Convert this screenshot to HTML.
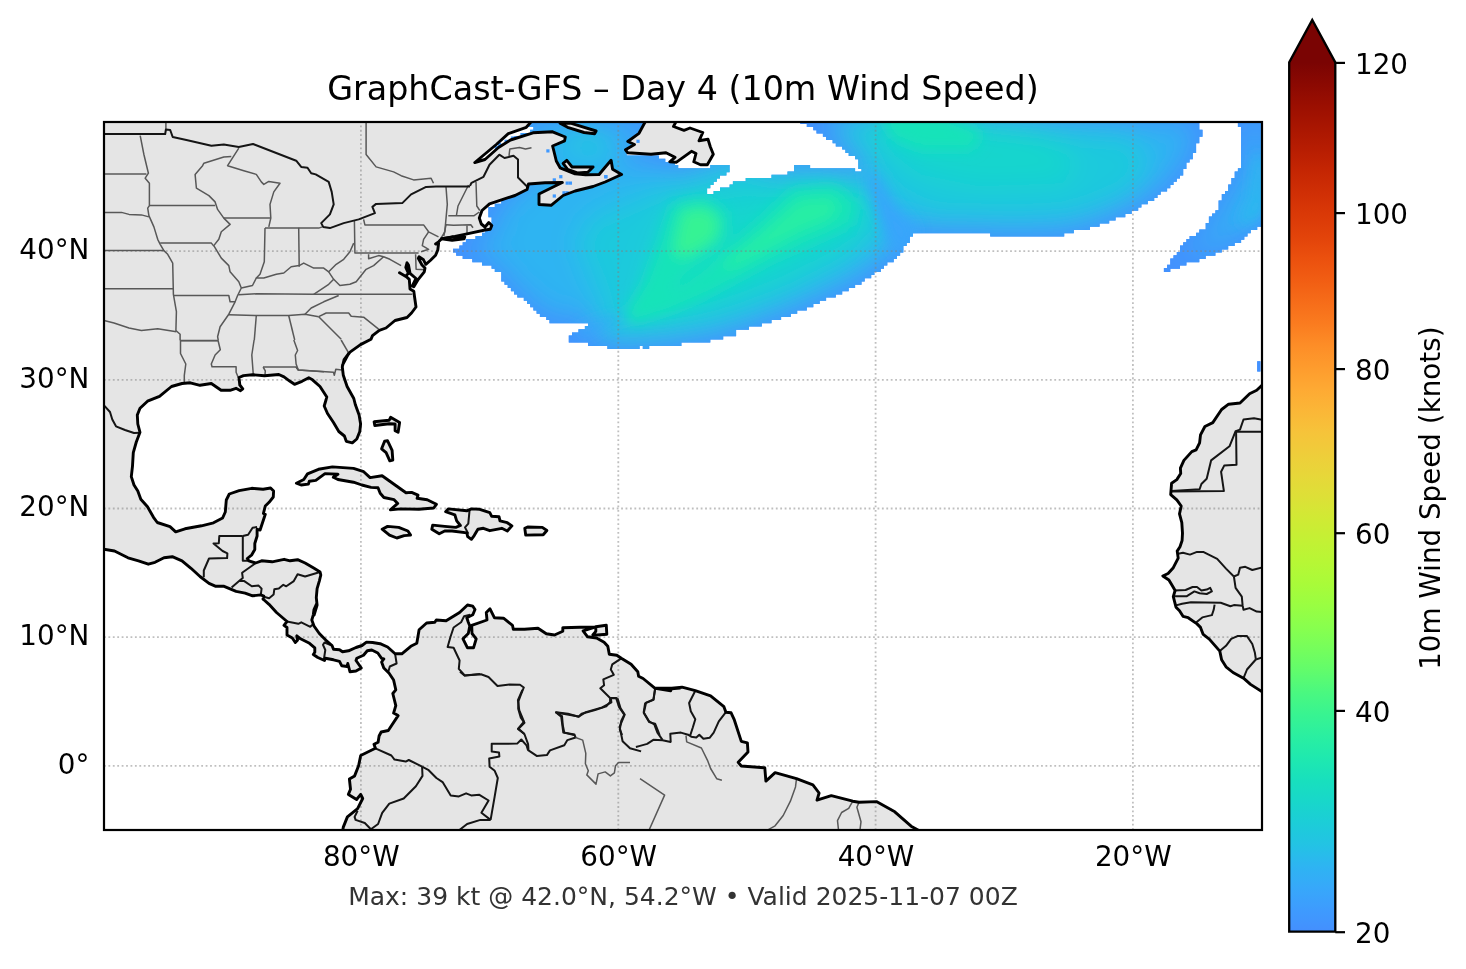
<!DOCTYPE html><html><head><meta charset="utf-8"><title>GraphCast-GFS Day 4</title>
<style>html,body{margin:0;padding:0;background:#fff}svg{display:block}text{font-family:"DejaVu Sans","Liberation Sans",sans-serif;fill:#000}</style></head><body>
<svg width="1466" height="969" viewBox="0 0 1466 969">
<rect width="1466" height="969" fill="#fff"/>
<defs>
<clipPath id="ax"><rect x="104.0" y="122.0" width="1158.0" height="708.0"/></clipPath>
<linearGradient id="cb" gradientUnits="userSpaceOnUse" x1="0" y1="931.7" x2="0" y2="62.4"><stop offset="0.0000" stop-color="#448ffe"/><stop offset="0.0250" stop-color="#3e9bfe"/><stop offset="0.0500" stop-color="#37a8fa"/><stop offset="0.0750" stop-color="#2eb4f2"/><stop offset="0.1000" stop-color="#23c3e4"/><stop offset="0.1250" stop-color="#1ccdd8"/><stop offset="0.1500" stop-color="#18d7ca"/><stop offset="0.1750" stop-color="#18e0bd"/><stop offset="0.2000" stop-color="#1fe9af"/><stop offset="0.2250" stop-color="#2aefa1"/><stop offset="0.2500" stop-color="#38f491"/><stop offset="0.2750" stop-color="#4af880"/><stop offset="0.3000" stop-color="#61fc6c"/><stop offset="0.3250" stop-color="#75fe5c"/><stop offset="0.3500" stop-color="#88ff4e"/><stop offset="0.3750" stop-color="#99fe42"/><stop offset="0.4000" stop-color="#a9fb39"/><stop offset="0.4250" stop-color="#b7f735"/><stop offset="0.4500" stop-color="#c3f134"/><stop offset="0.4750" stop-color="#d0ea34"/><stop offset="0.5000" stop-color="#dde037"/><stop offset="0.5250" stop-color="#e7d739"/><stop offset="0.5500" stop-color="#efcd3a"/><stop offset="0.5750" stop-color="#f6c33a"/><stop offset="0.6000" stop-color="#fbb637"/><stop offset="0.6250" stop-color="#fea933"/><stop offset="0.6500" stop-color="#fe9b2d"/><stop offset="0.6750" stop-color="#fd8d27"/><stop offset="0.7000" stop-color="#fa7b1f"/><stop offset="0.7250" stop-color="#f66c19"/><stop offset="0.7500" stop-color="#f15d13"/><stop offset="0.7750" stop-color="#eb500e"/><stop offset="0.8000" stop-color="#e2430a"/><stop offset="0.8250" stop-color="#da3907"/><stop offset="0.8500" stop-color="#d02f05"/><stop offset="0.8750" stop-color="#c52603"/><stop offset="0.9000" stop-color="#b71d02"/><stop offset="0.9250" stop-color="#a91601"/><stop offset="0.9500" stop-color="#9b0f01"/><stop offset="0.9750" stop-color="#8b0902"/><stop offset="1.0000" stop-color="#7a0403"/></linearGradient>

</defs>
<g clip-path="url(#ax)">
<clipPath id="wm"><path d="M514.1 120.1H658.9V123.9H514.1ZM800.4 120.1H1199.3V123.9H800.4ZM1237.9 120.1H1263.6V123.9H1237.9ZM514.1 123.3H658.9V127.1H514.1ZM806.8 123.3H1199.3V127.1H806.8ZM1237.9 123.3H1263.6V127.1H1237.9ZM514.1 126.5H520.6V130.3H514.1ZM533.4 126.5H658.9V130.3H533.4ZM813.3 126.5H1199.3V130.3H813.3ZM1241.1 126.5H1263.6V130.3H1241.1ZM530.2 129.7H658.9V133.6H530.2ZM816.5 129.7H1202.5V133.6H816.5ZM1241.1 129.7H1263.6V133.6H1241.1ZM520.6 133.0H655.7V136.8H520.6ZM822.9 133.0H1202.5V136.8H822.9ZM1241.1 133.0H1263.6V136.8H1241.1ZM514.1 136.2H652.4V140.0H514.1ZM826.1 136.2H1199.3V140.0H826.1ZM1241.1 136.2H1263.6V140.0H1241.1ZM514.1 139.4H649.2V143.2H514.1ZM832.6 139.4H1199.3V143.2H832.6ZM1241.1 139.4H1263.6V143.2H1241.1ZM514.1 142.6H646.0V146.4H514.1ZM835.8 142.6H1196.1V146.4H835.8ZM1241.1 142.6H1263.6V146.4H1241.1ZM520.6 145.8H639.6V149.6H520.6ZM842.2 145.8H1196.1V149.6H842.2ZM1241.1 145.8H1263.6V149.6H1241.1ZM523.8 149.0H633.1V152.9H523.8ZM845.4 149.0H1196.1V152.9H845.4ZM1241.1 149.0H1263.6V152.9H1241.1ZM527.0 152.3H626.7V156.1H527.0ZM848.7 152.3H1192.8V156.1H848.7ZM1241.1 152.3H1263.6V156.1H1241.1ZM533.4 155.5H658.9V159.3H533.4ZM855.1 155.5H1192.8V159.3H855.1ZM1241.1 155.5H1263.6V159.3H1241.1ZM536.6 158.7H665.3V162.5H536.6ZM858.3 158.7H1189.6V162.5H858.3ZM1241.1 158.7H1263.6V162.5H1241.1ZM536.6 161.9H675.0V165.7H536.6ZM858.3 161.9H1186.4V165.7H858.3ZM1241.1 161.9H1263.6V165.7H1241.1ZM536.6 165.1H678.2V168.9H536.6ZM710.3 165.1H729.6V168.9H710.3ZM794.0 165.1H810.1V168.9H794.0ZM858.3 165.1H1186.4V168.9H858.3ZM1241.1 165.1H1263.6V168.9H1241.1ZM536.6 168.3H729.6V172.2H536.6ZM794.0 168.3H855.1V172.2H794.0ZM861.5 168.3H1183.2V172.2H861.5ZM1237.9 168.3H1263.6V172.2H1237.9ZM533.4 171.6H726.4V175.4H533.4ZM787.5 171.6H1183.2V175.4H787.5ZM1234.7 171.6H1263.6V175.4H1234.7ZM527.0 174.8H720.0V178.6H527.0ZM771.5 174.8H1180.0V178.6H771.5ZM1234.7 174.8H1263.6V178.6H1234.7ZM523.8 178.0H716.8V181.8H523.8ZM745.7 178.0H1176.8V181.8H745.7ZM1231.4 178.0H1263.6V181.8H1231.4ZM517.3 181.2H713.6V185.0H517.3ZM732.9 181.2H1173.5V185.0H732.9ZM1231.4 181.2H1263.6V185.0H1231.4ZM514.1 184.4H710.3V188.2H514.1ZM729.6 184.4H1170.3V188.2H729.6ZM1228.2 184.4H1263.6V188.2H1228.2ZM510.9 187.6H707.1V191.5H510.9ZM720.0 187.6H1167.1V191.5H720.0ZM1228.2 187.6H1263.6V191.5H1228.2ZM507.7 190.9H707.1V194.7H507.7ZM713.6 190.9H1160.7V194.7H713.6ZM1225.0 190.9H1263.6V194.7H1225.0ZM504.5 194.1H1157.5V197.9H504.5ZM1221.8 194.1H1263.6V197.9H1221.8ZM501.3 197.3H1154.2V201.1H501.3ZM1221.8 197.3H1263.6V201.1H1221.8ZM501.3 200.5H1147.8V204.3H501.3ZM1218.6 200.5H1263.6V204.3H1218.6ZM494.8 203.7H1141.4V207.5H494.8ZM1218.6 203.7H1263.6V207.5H1218.6ZM488.4 206.9H1138.2V210.8H488.4ZM1218.6 206.9H1263.6V210.8H1218.6ZM488.4 210.2H1131.7V214.0H488.4ZM1215.4 210.2H1263.6V214.0H1215.4ZM488.4 213.4H1125.3V217.2H488.4ZM1212.1 213.4H1263.6V217.2H1212.1ZM491.6 216.6H1115.6V220.4H491.6ZM1208.9 216.6H1263.6V220.4H1208.9ZM491.6 219.8H1109.2V223.6H491.6ZM1208.9 219.8H1263.6V223.6H1208.9ZM491.6 223.0H1099.6V226.8H491.6ZM1205.7 223.0H1263.6V226.8H1205.7ZM491.6 226.2H1089.9V230.1H491.6ZM1205.7 226.2H1257.2V230.1H1205.7ZM485.2 229.5H1073.8V233.3H485.2ZM1199.3 229.5H1250.7V233.3H1199.3ZM482.0 232.7H913.0V236.5H482.0ZM990.2 232.7H1064.2V236.5H990.2ZM1196.1 232.7H1247.5V236.5H1196.1ZM475.5 235.9H909.8V239.7H475.5ZM1189.6 235.9H1244.3V239.7H1189.6ZM465.9 239.1H909.8V242.9H465.9ZM1186.4 239.1H1241.1V242.9H1186.4ZM462.7 242.3H906.6V246.1H462.7ZM1183.2 242.3H1234.7V246.1H1183.2ZM459.4 245.5H903.3V249.4H459.4ZM1180.0 245.5H1228.2V249.4H1180.0ZM453.0 248.8H903.3V252.6H453.0ZM1180.0 248.8H1221.8V252.6H1180.0ZM456.2 252.0H900.1V255.8H456.2ZM1176.8 252.0H1215.4V255.8H1176.8ZM462.7 255.2H896.9V259.0H462.7ZM1173.5 255.2H1205.7V259.0H1173.5ZM472.3 258.4H893.7V262.2H472.3ZM1170.3 258.4H1199.3V262.2H1170.3ZM482.0 261.6H887.3V265.4H482.0ZM1170.3 261.6H1186.4V265.4H1170.3ZM491.6 264.8H884.0V268.7H491.6ZM1167.1 264.8H1180.0V268.7H1167.1ZM494.8 268.1H880.8V271.9H494.8ZM1163.9 268.1H1170.3V271.9H1163.9ZM501.3 271.3H874.4V275.1H501.3ZM501.3 274.5H871.2V278.3H501.3ZM501.3 277.7H864.7V281.5H501.3ZM504.5 280.9H861.5V284.7H504.5ZM507.7 284.1H855.1V288.0H507.7ZM510.9 287.4H848.7V291.2H510.9ZM514.1 290.6H842.2V294.4H514.1ZM517.3 293.8H835.8V297.6H517.3ZM523.8 297.0H826.1V300.8H523.8ZM527.0 300.2H819.7V304.0H527.0ZM530.2 303.4H813.3V307.3H530.2ZM533.4 306.7H806.8V310.5H533.4ZM536.6 309.9H797.2V313.7H536.6ZM539.9 313.1H790.8V316.9H539.9ZM546.3 316.3H781.1V320.1H546.3ZM549.5 319.5H771.5V323.3H549.5ZM588.1 322.7H761.8V326.6H588.1ZM584.9 326.0H748.9V329.8H584.9ZM578.5 329.2H736.1V333.0H578.5ZM572.0 332.4H736.1V336.2H572.0ZM568.8 335.6H723.2V339.4H568.8ZM568.8 338.8H710.3V342.6H568.8ZM588.1 342.0H681.4V345.9H588.1ZM607.4 345.3H639.6V349.1H607.4ZM642.8 345.3H649.2V349.1H642.8ZM1257.2 361.3H1260.4V365.2H1257.2ZM1257.2 364.6H1260.4V368.4H1257.2ZM1257.2 367.8H1260.4V371.6H1257.2Z"/></clipPath>
<filter id="wb" filterUnits="userSpaceOnUse" x="380" y="40" width="960" height="400"><feGaussianBlur stdDeviation="14"/></filter>
<filter id="ws" filterUnits="userSpaceOnUse" x="380" y="40" width="960" height="400"><feGaussianBlur stdDeviation="7"/></filter>
<g clip-path="url(#wm)">
<rect x="400" y="100" width="880" height="300" fill="#4391fe"/>
<g filter="url(#wb)">
<rect x="380" y="40" width="960" height="400" fill="#4391fe"/>
<path d="M453.3 250.5 L459.4 255.6 L472.7 260.7 L488.1 264.8 L499.3 272.0 L504.5 284.2 L513.7 291.4 L521.9 298.6 L536.2 311.9 L546.4 319.0 L552.6 322.5 L583.2 323.1 L587.3 323.1 L587.3 325.8 L581.2 330.3 L569.9 335.4 L569.9 342.6 L587.3 343.0 L588.4 345.6 L606.8 346.2 L607.8 348.7 L638.5 348.7 L639.5 345.6 L642.6 345.6 L642.6 348.7 L648.7 348.3 L649.8 345.6 L681.5 345.0 L682.5 342.6 L710.1 342.1 L711.1 338.5 L723.4 338.0 L724.4 335.4 L735.7 334.8 L736.7 332.3 L734.9 331.7 L759.9 325.5 L784.9 316.7 L809.8 306.7 L834.8 295.5 L859.8 283.0 L877.2 271.8 L897.2 256.8 L907.2 244.3 L913.4 233.1 L989.6 233.1 L990.8 235.6 L1046.0 235.6 L990.1 235.3 L1063.2 235.3 L1076.1 231.0 L1093.3 227.5 L1112.0 220.9 L1132.1 211.5 L1146.4 203.7 L1160.7 193.7 L1175.1 182.2 L1183.7 172.2 L1189.4 160.7 L1195.2 150.7 L1198.6 139.2 L1201.7 136.3 L1199.5 116.3 L801.1 117.0 L801.1 122.0 L814.8 129.5 L829.8 139.5 L844.8 150.7 L857.3 159.4 L861.0 170.7 L847.3 169.4 L820.0 168.5 L810.1 168.5 L810.1 166.3 L795.1 166.3 L794.3 171.5 L787.6 172.3 L786.8 174.5 L771.8 175.3 L771.1 177.5 L745.6 178.3 L744.8 181.3 L733.6 182.0 L726.1 188.0 L714.1 191.8 L712.6 194.8 L707.3 194.8 L707.3 187.3 L715.6 182.0 L720.1 177.5 L728.3 171.5 L728.3 166.3 L710.3 166.3 L710.3 168.5 L681.0 168.5 L675.0 164.0 L660.0 158.8 L658.5 155.8 L639.0 155.8 L627.8 154.3 L645.0 144.5 L660.0 131.0 L660.0 117.5 L515.0 117.5 L515.0 144.5 L536.0 159.5 L536.0 171.5 L524.0 179.0 L512.0 188.0 L500.0 202.3 L491.0 207.5 L485.8 213.5 L490.3 218.0 L492.5 227.0 L478.3 236.4 L466.3 240.9 L459.5 246.6 Z" fill="#2eb4f2" stroke="#4391fe" stroke-width="14" stroke-linejoin="round"/>
<path d="M1236.7 116.3 L1241.0 130.6 L1240.5 167.9 L1235.3 172.2 L1231.0 182.2 L1228.1 189.4 L1221.5 198.0 L1218.1 208.0 L1209.5 216.6 L1205.2 228.1 L1192.3 236.7 L1180.8 248.2 L1172.2 259.7 L1164.2 271.1 L1173.6 269.7 L1186.5 264.0 L1200.9 259.7 L1218.1 252.5 L1228.1 246.7 L1242.5 241.0 L1249.6 232.4 L1259.7 226.7 L1269.7 225.2 L1269.7 116.3 Z" fill="#2eb4f2" stroke="#4391fe" stroke-width="14" stroke-linejoin="round"/>
<path d="M744.6 157.0 L694.6 171.9 L634.7 196.9 L589.8 216.9 L574.8 241.8 L589.8 276.8 L599.8 306.7 L599.8 331.7 L619.7 341.7 L669.7 336.7 L732.1 324.2 L786.0 301.8 L844.4 271.8 L881.9 241.8 L889.4 204.4 L864.4 179.4 L819.5 169.4 L769.5 171.9 Z" fill="#1fc9dd"/>
<path d="M830.7 124.2 L870.3 112.8 L949.5 112.8 L1062.8 124.2 L1133.6 135.5 L1150.5 166.6 L1130.7 194.9 L1079.8 217.6 L1006.2 223.2 L932.6 222.1 L892.9 194.9 L864.6 161.0 Z" fill="#1fc9dd"/>
<path d="M559.8 129.5 L594.8 127.0 L614.7 147.0 L594.8 157.0 L569.8 149.5 Z" fill="#1fc9dd"/>
<path d="M669.7 204.4 L732.1 196.9 L844.4 176.9 L874.4 204.4 L859.4 241.8 L794.5 276.8 L732.1 301.8 L669.7 321.7 L632.2 321.7 L644.7 271.8 L657.2 234.3 Z" fill="#19d5cd"/>
<path d="M870.3 115.7 L949.5 115.7 L1040.1 132.6 L1079.8 161.0 L1062.8 183.6 L977.9 186.4 L921.2 175.1 L884.4 149.6 Z" fill="#19d5cd"/>
</g>
<g filter="url(#ws)">
<path d="M863.5 169.4 L879.7 178.2 L894.7 204.4 L917.2 229.4 L908.4 251.8 L897.2 256.8 L883.5 229.4 L873.5 201.9 Z" fill="#38a5fb"/>
<path d="M571.0 336.4 L587.3 325.2 L603.7 320.0 L624.2 314.9 L624.2 318.0 L603.7 326.2 L583.2 338.5 Z" fill="#38a5fb"/>
<path d="M1254.3 154.6 L1264.1 154.6 L1264.1 213.3 L1247.8 224.7 L1238.0 223.1 L1249.5 200.3 Z" fill="#2ab9ee"/>
<path d="M672.2 204.4 L702.1 196.9 L727.1 211.9 L727.1 239.3 L699.6 261.8 L669.7 291.8 L639.7 316.7 L624.7 314.2 L644.7 281.8 L659.7 241.8 Z" fill="#19e3b9"/>
<path d="M792.3 189.4 L834.8 185.7 L857.3 201.9 L852.3 224.4 L819.8 239.3 L779.9 256.8 L742.4 276.8 L705.0 296.8 L670.0 311.7 L630.1 324.2 L630.1 311.7 L680.0 286.8 L717.4 256.8 L754.9 224.4 Z" fill="#19e3b9"/>
<path d="M878.8 114.5 L938.2 114.5 L983.5 132.6 L972.2 149.6 L921.2 149.6 L892.9 138.3 Z" fill="#19e3b9"/>
<path d="M799.8 199.4 L829.8 196.9 L839.8 206.9 L829.8 219.4 L799.8 231.8 L762.4 251.8 L729.9 269.3 L722.4 264.3 L754.9 239.3 Z" fill="#27eea4"/>
<path d="M682.1 210.6 L707.1 206.9 L719.6 220.6 L715.8 239.3 L697.1 251.8 L682.1 258.1 L673.4 251.8 L677.1 231.8 Z" fill="#35f394"/>
</g></g>
<path d="M531.8 121.1 L526.3 127.3 L508.3 133.7 L496.3 144.5 L474.8 162.5 L485.0 159.5 L498.5 147.5 L510.5 140.0 L533.0 132.8 L552.6 131.8 L565.3 137.0 L564.6 140.8 L552.6 146.0 L554.1 152.0 L556.3 161.0 L560.1 167.8 L575.1 173.8 L585.6 174.8 L599.1 174.5 L602.8 170.0 L611.1 160.3 L612.6 169.3 L621.6 174.5 L605.1 182.0 L593.1 186.5 L575.1 191.0 L563.1 195.5 L551.1 205.3 L539.0 204.5 L539.0 194.0 L551.1 188.0 L562.3 182.5 L545.0 182.8 L528.5 184.0 L527.0 189.5 L515.0 195.5 L503.0 199.3 L489.5 203.8 L482.0 210.5 L479.3 218.0 L481.3 224.0 L485.0 227.0 L488.8 222.5 L491.8 225.5 L490.3 229.3 L485.0 230.0 L467.0 233.8 L455.0 236.4 L452.1 236.8 L441.6 238.8 L438.6 241.8 L435.6 244.0 L438.6 243.3 L437.8 250.0 L435.6 255.3 L430.3 260.5 L425.8 264.3 L423.5 259.8 L419.0 256.8 L418.3 258.3 L422.0 265.0 L425.0 268.0 L424.3 271.8 L418.3 279.3 L413.8 286.8 L412.3 286.0 L416.0 278.5 L410.0 273.3 L408.5 265.0 L407.0 262.8 L405.8 267.3 L408.5 273.3 L405.5 276.3 L399.5 272.8 L406.3 276.7 L409.3 279.3 L410.0 289.0 L413.8 291.3 L414.5 296.5 L416.0 307.0 L411.5 313.0 L407.0 317.5 L395.0 320.5 L386.0 328.0 L379.3 330.3 L372.5 335.6 L371.0 339.3 L360.5 344.6 L350.0 352.1 L345.5 358.1 L342.5 365.0 L348.6 353.5 L344.1 359.5 L342.3 367.0 L343.3 375.3 L347.1 386.5 L353.8 398.5 L355.3 404.5 L359.1 415.0 L360.6 424.0 L359.8 431.5 L356.8 439.0 L352.3 442.8 L346.3 441.3 L344.4 436.0 L338.8 431.5 L333.5 422.5 L327.5 413.5 L324.2 406.0 L326.0 400.0 L326.8 397.0 L320.0 386.5 L312.5 379.8 L308.8 377.8 L302.0 381.3 L294.5 384.3 L290.0 381.3 L284.0 376.8 L278.8 374.5 L264.5 375.7 L252.5 374.8 L243.5 375.6 L239.0 377.5 L239.8 385.0 L242.8 388.8 L240.5 390.7 L236.0 388.3 L230.0 390.3 L221.1 390.3 L211.3 383.5 L200.0 385.3 L190.3 382.8 L182.0 383.5 L171.5 386.5 L159.5 396.3 L147.5 401.2 L140.0 408.3 L137.3 415.0 L137.8 424.0 L140.0 432.3 L136.3 442.0 L133.3 452.6 L132.5 466.1 L131.3 476.6 L134.0 485.0 L137.8 491.0 L140.8 499.3 L147.5 506.8 L153.5 517.3 L157.3 522.5 L170.0 526.7 L175.7 531.8 L185.0 528.8 L201.5 525.8 L213.5 522.8 L222.6 518.0 L225.3 512.0 L226.3 500.0 L229.3 494.0 L239.1 490.7 L251.8 488.3 L263.1 489.2 L270.6 488.0 L273.6 491.0 L273.3 497.0 L269.1 502.3 L265.3 506.0 L263.4 513.5 L265.3 514.3 L260.1 530.0 L257.1 529.3 L257.1 536.0 L254.8 543.5 L254.8 549.5 L251.8 554.8 L247.3 558.5 L248.8 560.8 L255.6 563.0 L261.6 560.8 L272.1 561.8 L284.1 559.3 L290.1 560.8 L297.6 559.7 L305.1 563.0 L314.1 568.3 L320.1 572.0 L320.8 575.0 L319.3 581.1 L317.1 588.6 L316.3 597.6 L317.1 605.1 L314.1 615.0 L316.7 603.5 L314.0 609.5 L313.3 614.8 L311.8 620.0 L314.0 626.0 L319.3 633.5 L326.0 640.3 L332.0 645.5 L333.5 649.3 L339.5 649.7 L342.5 651.8 L348.5 650.8 L356.0 647.5 L362.0 645.5 L366.5 642.1 L372.6 642.5 L380.1 643.7 L387.6 647.0 L395.1 653.8 L401.8 653.8 L410.8 646.3 L416.8 643.3 L419.1 629.8 L426.6 623.0 L434.8 622.3 L436.3 620.0 L446.1 620.8 L459.6 612.5 L467.5 605.0 L472.8 606.2 L475.0 609.5 L472.8 614.8 L466.8 617.8 L468.3 622.3 L469.8 626.0 L468.3 633.5 L463.0 638.8 L467.5 647.8 L473.5 647.8 L476.2 638.8 L472.0 633.5 L471.7 625.3 L487.0 620.0 L486.3 612.5 L490.0 608.8 L494.5 617.8 L503.5 618.2 L512.5 625.3 L513.3 629.3 L524.5 629.3 L538.0 628.3 L546.3 633.8 L554.5 635.0 L562.8 631.3 L562.8 627.8 L580.1 627.2 L595.1 627.2 L583.1 630.8 L587.6 636.8 L596.6 638.0 L604.1 642.2 L607.8 646.3 L609.3 654.2 L616.8 655.3 L621.3 658.3 L631.1 664.3 L637.8 671.8 L638.6 676.3 L643.1 678.5 L655.1 688.3 L670.1 690.5 L671.6 688.7 L680.0 688.0 L655.3 688.2 L670.7 690.7 L671.7 688.2 L682.0 687.2 L695.3 690.7 L710.6 695.8 L723.9 706.7 L725.9 712.2 L731.1 712.8 L734.1 719.3 L741.3 741.4 L747.4 742.9 L748.0 752.1 L738.2 762.3 L741.3 766.0 L764.8 767.8 L765.9 781.1 L775.1 772.6 L796.5 778.7 L812.9 784.8 L819.1 793.0 L817.0 800.2 L831.3 795.7 L852.8 801.2 L859.0 802.2 L876.4 801.6 L894.8 811.8 L911.1 826.2 L921.4 831.9 L342.3 833.2 L343.3 827.1 L347.4 816.9 L357.6 808.7 L362.7 798.5 L360.7 794.4 L356.6 799.5 L348.4 794.4 L350.5 789.2 L349.4 779.0 L354.6 775.9 L358.6 765.7 L360.7 755.5 L375.4 748.3 L374.0 744.2 L378.1 742.2 L379.1 736.0 L381.2 732.0 L388.3 730.5 L398.1 715.6 L393.6 713.1 L395.8 705.6 L394.3 699.5 L392.8 693.5 L395.8 689.8 L393.6 680.0 L389.1 673.3 L383.8 668.0 L381.6 662.0 L383.8 659.0 L381.6 658.3 L377.8 653.0 L371.8 650.0 L367.3 650.8 L363.5 655.3 L356.8 658.3 L356.0 660.5 L361.3 668.0 L356.0 671.0 L350.0 671.8 L347.8 663.5 L347.0 666.5 L341.8 665.8 L339.5 661.3 L333.5 659.8 L325.3 658.3 L324.5 660.5 L317.8 657.5 L313.3 654.5 L314.8 652.3 L314.8 647.8 L309.5 643.3 L300.5 638.8 L296.8 635.8 L297.5 640.3 L295.3 642.5 L292.3 638.0 L287.0 635.0 L287.0 627.5 L284.0 625.3 L287.0 621.5 L276.5 612.5 L269.0 604.3 L263.0 599.0 L263.1 599.1 L263.8 596.1 L260.8 594.9 L252.6 595.8 L245.1 593.1 L236.1 591.3 L224.1 586.3 L215.8 586.3 L209.0 583.3 L200.0 576.5 L191.0 568.3 L182.0 560.8 L172.3 556.7 L164.0 557.8 L155.0 562.3 L148.3 564.2 L138.5 560.8 L128.0 557.8 L114.5 551.0 L102.5 548.9 L100.0 118.0 Z" fill="#e5e5e5"/>
<path d="M563.1 163.3 L566.8 160.3 L572.1 167.0 L593.1 167.0 L587.8 172.3 L578.1 173.0 L567.6 169.3 Z" fill="#e5e5e5"/>
<path d="M560.1 123.2 L570.6 123.2 L596.1 131.0 L594.6 133.7 L584.1 132.5 L567.6 127.3 Z" fill="#e5e5e5"/>
<path d="M645.8 120.8 L639.0 133.3 L627.8 141.5 L634.5 144.5 L625.5 149.8 L627.8 152.8 L651.0 154.3 L666.0 152.8 L675.0 157.3 L669.8 161.8 L676.5 162.2 L691.5 151.3 L696.0 153.5 L693.8 161.8 L700.5 164.8 L707.3 164.8 L713.3 154.3 L710.3 146.8 L708.0 139.3 L699.0 140.8 L702.8 132.5 L690.0 128.0 L684.0 130.3 L673.5 126.5 L676.5 120.8 Z" fill="#e5e5e5"/>
<path d="M441.6 238.8 L452.1 240.3 L464.1 238.8 L464.8 236.8 L452.1 237.1 Z" fill="#e5e5e5"/>
<path d="M374.1 421.8 L389.1 420.3 L390.6 417.3 L399.6 422.5 L398.1 432.3 L395.1 430.8 L395.1 424.0 L389.1 423.7 L374.8 425.5 Z" fill="#e5e5e5"/>
<path d="M384.6 441.3 L387.6 440.8 L392.1 450.3 L392.8 460.1 L389.8 460.8 L386.1 452.6 L381.6 448.8 Z" fill="#e5e5e5"/>
<path d="M296.4 483.2 L303.8 479.5 L307.5 473.9 L318.5 469.3 L332.4 466.9 L353.5 468.4 L363.7 471.7 L370.1 477.6 L382.1 475.8 L406.0 492.7 L411.6 492.4 L418.0 495.1 L417.1 498.3 L427.2 499.7 L436.4 504.3 L433.7 508.0 L418.9 509.3 L400.5 508.9 L390.4 509.9 L397.7 503.4 L394.1 499.7 L383.9 497.5 L380.2 493.3 L378.0 487.8 L371.0 487.4 L361.8 485.0 L353.5 482.2 L337.9 479.5 L333.3 477.3 L337.9 474.3 L325.0 473.6 L315.8 480.4 L309.3 481.3 L308.4 484.1 L301.1 485.0 Z" fill="#e5e5e5"/>
<path d="M382.1 529.2 L387.6 526.4 L398.7 527.4 L407.9 531.0 L410.6 535.1 L404.2 535.6 L396.8 538.0 L389.5 535.1 Z" fill="#e5e5e5"/>
<path d="M445.6 511.7 L448.4 508.9 L466.8 510.8 L471.4 508.9 L479.7 509.3 L489.8 512.6 L491.7 516.3 L499.0 516.7 L500.0 520.9 L507.3 522.7 L511.9 525.9 L507.3 531.0 L501.8 528.3 L489.8 530.7 L483.4 528.3 L477.9 529.2 L474.2 535.6 L471.4 539.3 L467.7 536.6 L466.8 532.9 L452.1 531.0 L444.7 531.0 L439.2 533.8 L431.8 529.2 L432.7 525.1 L444.7 526.4 L455.8 527.4 L460.4 525.5 L456.7 520.9 L454.8 514.8 Z" fill="#e5e5e5"/>
<path d="M524.8 528.3 L527.6 527.0 L542.3 527.4 L546.9 530.5 L543.2 534.7 L525.7 535.1 Z" fill="#e5e5e5"/>
<path d="M595.8 626.8 L606.3 625.3 L606.8 634.3 L597.3 635.0 L592.8 635.0 L595.8 631.3 Z" fill="#e5e5e5"/>
<path d="M1266.3 381.4 L1261.4 385.8 L1256.7 390.2 L1249.6 393.7 L1240.0 403.0 L1228.6 404.2 L1221.6 409.5 L1212.8 422.6 L1204.9 426.5 L1200.5 434.9 L1199.6 442.8 L1196.1 449.8 L1191.8 451.6 L1183.9 460.4 L1180.4 468.2 L1180.7 473.5 L1176.8 479.6 L1171.6 483.2 L1170.7 494.6 L1176.8 499.8 L1181.2 506.0 L1179.5 513.9 L1181.8 522.6 L1182.5 533.2 L1182.1 540.5 L1180.0 546.7 L1177.2 551.1 L1178.2 558.1 L1173.3 567.7 L1168.1 573.5 L1162.8 576.0 L1168.9 580.0 L1172.5 586.1 L1175.1 590.5 L1173.3 596.7 L1176.0 607.2 L1179.5 610.7 L1183.0 616.3 L1188.2 617.7 L1197.0 623.9 L1200.5 627.4 L1203.2 634.4 L1209.3 639.1 L1219.8 651.1 L1221.6 659.8 L1226.0 666.8 L1233.0 672.5 L1243.5 678.2 L1250.5 684.4 L1261.4 691.4 L1266.3 694.9 Z" fill="#e5e5e5"/>
<rect x="546.3" y="149.3" width="3.22" height="3.22" fill="#4099ff"/>
<rect x="552.7" y="178.3" width="3.22" height="3.22" fill="#4099ff"/>
<rect x="559.2" y="175.1" width="3.22" height="3.22" fill="#4099ff"/>
<rect x="565.6" y="181.5" width="3.22" height="3.22" fill="#4099ff"/>
<rect x="568.8" y="181.5" width="3.22" height="3.22" fill="#4099ff"/>
<rect x="552.7" y="194.4" width="3.22" height="3.22" fill="#4099ff"/>
<rect x="604.2" y="175.1" width="3.22" height="3.22" fill="#4099ff"/>
<rect x="604.2" y="175.1" width="3.22" height="3.22" fill="#4099ff"/>
<rect x="636.4" y="139.7" width="3.22" height="3.22" fill="#4099ff"/>
<rect x="510.9" y="136.5" width="3.22" height="3.22" fill="#4099ff"/>
<rect x="504.5" y="139.7" width="3.22" height="3.22" fill="#4099ff"/>
<rect x="498.0" y="142.9" width="3.22" height="3.22" fill="#4099ff"/>
<rect x="494.8" y="146.1" width="3.22" height="3.22" fill="#4099ff"/>
<rect x="562.4" y="191.2" width="3.22" height="3.22" fill="#4099ff"/>
<rect x="565.6" y="191.2" width="3.22" height="3.22" fill="#4099ff"/>
<path d="M360.9 830.0 V122.0" stroke="#808080" stroke-opacity="0.5" stroke-width="1.8" stroke-dasharray="1.8 2.62" fill="none"/>
<path d="M618.3 830.0 V122.0" stroke="#808080" stroke-opacity="0.5" stroke-width="1.8" stroke-dasharray="1.8 2.62" fill="none"/>
<path d="M875.6 830.0 V122.0" stroke="#808080" stroke-opacity="0.5" stroke-width="1.8" stroke-dasharray="1.8 2.62" fill="none"/>
<path d="M1132.9 830.0 V122.0" stroke="#808080" stroke-opacity="0.5" stroke-width="1.8" stroke-dasharray="1.8 2.62" fill="none"/>
<path d="M104.0 251.2 H1262.0" stroke="#808080" stroke-opacity="0.5" stroke-width="1.8" stroke-dasharray="1.8 2.62" fill="none"/>
<path d="M104.0 379.8 H1262.0" stroke="#808080" stroke-opacity="0.5" stroke-width="1.8" stroke-dasharray="1.8 2.62" fill="none"/>
<path d="M104.0 508.5 H1262.0" stroke="#808080" stroke-opacity="0.5" stroke-width="1.8" stroke-dasharray="1.8 2.62" fill="none"/>
<path d="M104.0 637.2 H1262.0" stroke="#808080" stroke-opacity="0.5" stroke-width="1.8" stroke-dasharray="1.8 2.62" fill="none"/>
<path d="M104.0 765.8 H1262.0" stroke="#808080" stroke-opacity="0.5" stroke-width="1.8" stroke-dasharray="1.8 2.62" fill="none"/>
<path d="M140.2 135.7 L143.9 154.5 L148.4 173.2 L145.2 178.2 L149.4 183.2 L149.4 205.6 L147.7 208.1 L148.9 215.6 L153.9 226.9 L157.7 239.3 L160.2 244.3 L163.9 250.6 L167.7 254.3 L172.7 263.1 L173.4 294.3 L176.4 311.7 L175.9 330.5 L180.1 334.2 L180.1 340.5" fill="none" stroke="#585858" stroke-width="1.5" stroke-linejoin="round"/>
<path d="M104.0 173.9 L146.4 173.9" fill="none" stroke="#585858" stroke-width="1.5" stroke-linejoin="round"/>
<path d="M104.0 212.4 L121.5 212.4 L129.0 214.4 L141.4 214.9 L148.9 216.9" fill="none" stroke="#585858" stroke-width="1.5" stroke-linejoin="round"/>
<path d="M104.0 250.6 L163.9 250.6" fill="none" stroke="#585858" stroke-width="1.5" stroke-linejoin="round"/>
<path d="M104.0 288.8 L173.4 288.8" fill="none" stroke="#585858" stroke-width="1.5" stroke-linejoin="round"/>
<path d="M149.4 205.6 L215.1 205.6" fill="none" stroke="#585858" stroke-width="1.5" stroke-linejoin="round"/>
<path d="M160.2 243.1 L211.4 243.1 L213.8 246.1" fill="none" stroke="#585858" stroke-width="1.5" stroke-linejoin="round"/>
<path d="M173.9 295.5 L228.8 295.5 L230.1 301.8 L235.1 301.8" fill="none" stroke="#585858" stroke-width="1.5" stroke-linejoin="round"/>
<path d="M104.0 320.5 L114.0 323.0 L129.0 328.0 L141.4 330.5 L157.7 328.7 L176.4 331.7" fill="none" stroke="#585858" stroke-width="1.5" stroke-linejoin="round"/>
<path d="M180.1 340.5 L217.6 340.5" fill="none" stroke="#585858" stroke-width="1.5" stroke-linejoin="round"/>
<path d="M231.3 156.5 L223.8 157.0 L203.9 163.2 L202.6 165.7 L195.1 174.4 L196.4 188.2 L208.9 195.6 L215.1 201.9 L217.6 209.4 L223.8 218.1 L230.1 224.4 L221.3 231.8 L218.8 239.3 L213.8 245.6 L221.3 258.1 L228.8 265.6 L230.1 271.8 L238.8 281.8 L241.3 288.0 L237.6 295.5 L235.1 301.8 L228.8 314.2 L220.1 326.7 L217.6 336.7 L218.3 340.5" fill="none" stroke="#585858" stroke-width="1.5" stroke-linejoin="round"/>
<path d="M241.3 288.0 L252.5 285.5 L256.3 278.0" fill="none" stroke="#585858" stroke-width="1.5" stroke-linejoin="round"/>
<path d="M238.8 148.2 L227.6 165.7 L243.8 170.7 L256.3 174.4 L261.3 181.9 L263.8 184.4 L268.8 181.4 L280.0 183.2 L273.8 191.9 L270.0 204.4 L270.8 218.1 L268.8 226.9" fill="none" stroke="#585858" stroke-width="1.5" stroke-linejoin="round"/>
<path d="M223.8 218.1 L270.0 218.1" fill="none" stroke="#585858" stroke-width="1.5" stroke-linejoin="round"/>
<path d="M265.0 228.1 L298.7 228.1 L299.2 266.8" fill="none" stroke="#585858" stroke-width="1.5" stroke-linejoin="round"/>
<path d="M265.0 228.1 L264.3 261.8 L260.0 274.3 L256.3 278.0 L263.8 278.0 L276.3 274.3 L283.8 273.0 L291.2 266.8 L299.2 265.6 L303.7 263.1 L313.7 268.1 L323.7 268.1 L328.7 271.8 L336.2 264.3 L343.7 259.3 L349.9 251.8 L353.7 243.1" fill="none" stroke="#585858" stroke-width="1.5" stroke-linejoin="round"/>
<path d="M298.7 228.1 L318.7 228.1 L322.5 226.9" fill="none" stroke="#585858" stroke-width="1.5" stroke-linejoin="round"/>
<path d="M354.4 220.6 L354.9 253.1 L418.6 253.1" fill="none" stroke="#585858" stroke-width="1.5" stroke-linejoin="round"/>
<path d="M363.6 219.4 L364.9 224.9 L423.6 224.9 L428.6 231.8 L438.5 236.8" fill="none" stroke="#585858" stroke-width="1.5" stroke-linejoin="round"/>
<path d="M328.7 271.8 L333.7 279.3 L339.9 285.5 L349.9 284.3 L356.2 281.8 L366.1 269.3 L373.6 265.6 L383.6 256.8 L389.9 259.3 L401.1 265.6" fill="none" stroke="#585858" stroke-width="1.5" stroke-linejoin="round"/>
<path d="M368.6 254.3 L368.6 258.8 L378.6 255.6 L383.6 256.8" fill="none" stroke="#585858" stroke-width="1.5" stroke-linejoin="round"/>
<path d="M238.3 294.8 L256.3 293.8 L313.7 294.3 L412.3 294.3" fill="none" stroke="#585858" stroke-width="1.5" stroke-linejoin="round"/>
<path d="M313.7 294.3 L328.7 284.3 L333.7 279.3" fill="none" stroke="#585858" stroke-width="1.5" stroke-linejoin="round"/>
<path d="M305.0 314.2 L311.2 308.0 L323.7 301.8 L338.7 295.5" fill="none" stroke="#585858" stroke-width="1.5" stroke-linejoin="round"/>
<path d="M228.6 314.7 L255.0 315.5 L288.7 315.5 L305.0 314.2 L318.7 316.7" fill="none" stroke="#585858" stroke-width="1.5" stroke-linejoin="round"/>
<path d="M256.3 315.5 L254.3 340.0" fill="none" stroke="#585858" stroke-width="1.5" stroke-linejoin="round"/>
<path d="M288.7 315.5 L294.7 340.0" fill="none" stroke="#585858" stroke-width="1.5" stroke-linejoin="round"/>
<path d="M318.7 316.7 L328.7 326.7 L341.2 339.2" fill="none" stroke="#585858" stroke-width="1.5" stroke-linejoin="round"/>
<path d="M318.7 316.7 L326.2 313.0 L348.7 313.0 L351.2 316.2 L363.6 317.2 L378.6 329.2" fill="none" stroke="#585858" stroke-width="1.5" stroke-linejoin="round"/>
<path d="M415.6 254.3 L416.1 269.3 L424.8 269.8" fill="none" stroke="#585858" stroke-width="1.5" stroke-linejoin="round"/>
<path d="M428.6 231.8 L423.6 239.3 L422.3 245.6 L428.6 249.3 L421.1 251.8" fill="none" stroke="#585858" stroke-width="1.5" stroke-linejoin="round"/>
<path d="M446.0 186.9 L447.3 204.4 L444.8 231.8 L441.0 238.1" fill="none" stroke="#585858" stroke-width="1.5" stroke-linejoin="round"/>
<path d="M366.1 122.0 L366.1 154.5 L376.1 166.9 L393.6 171.9 L401.1 175.7 L413.6 179.9 L431.1 178.2 L433.5 183.2" fill="none" stroke="#585858" stroke-width="1.5" stroke-linejoin="round"/>
<path d="M165.9 122.0 L165.9 129.5" fill="none" stroke="#585858" stroke-width="1.5" stroke-linejoin="round"/>
<path d="M468.5 185.0 L462.5 197.0 L458.0 206.0 L456.5 215.0" fill="none" stroke="#585858" stroke-width="1.5" stroke-linejoin="round"/>
<path d="M476.0 182.0 L476.8 206.0 L479.8 210.5" fill="none" stroke="#585858" stroke-width="1.5" stroke-linejoin="round"/>
<path d="M448.3 215.8 L473.8 215.8 L479.3 212.0" fill="none" stroke="#585858" stroke-width="1.5" stroke-linejoin="round"/>
<path d="M446.0 224.8 L453.5 225.2 L470.8 224.8 L473.0 227.8" fill="none" stroke="#585858" stroke-width="1.5" stroke-linejoin="round"/>
<path d="M467.0 225.5 L467.0 233.1" fill="none" stroke="#585858" stroke-width="1.5" stroke-linejoin="round"/>
<path d="M446.0 224.8 L443.8 236.1" fill="none" stroke="#585858" stroke-width="1.5" stroke-linejoin="round"/>
<path d="M509.0 155.8 L509.8 149.0 L519.5 147.5 L525.5 149.0 L531.5 147.8" fill="none" stroke="#585858" stroke-width="1.5" stroke-linejoin="round"/>
<path d="M180.5 340.8 L180.5 353.5 L185.8 364.0 L184.3 375.3 L184.3 382.8" fill="none" stroke="#585858" stroke-width="1.5" stroke-linejoin="round"/>
<path d="M180.5 340.8 L218.1 340.8 L220.3 349.8 L215.1 355.0 L211.3 364.0 L212.0 366.7 L236.1 366.7 L236.1 372.3 L238.3 377.5" fill="none" stroke="#585858" stroke-width="1.5" stroke-linejoin="round"/>
<path d="M254.1 340.0 L251.8 355.0 L253.3 374.8" fill="none" stroke="#585858" stroke-width="1.5" stroke-linejoin="round"/>
<path d="M263.1 367.0 L296.1 367.0 L298.3 370.0 L324.0 371.8" fill="none" stroke="#585858" stroke-width="1.5" stroke-linejoin="round"/>
<path d="M263.1 367.0 L265.3 370.8 L264.9 376.0" fill="none" stroke="#585858" stroke-width="1.5" stroke-linejoin="round"/>
<path d="M293.8 340.0 L297.6 350.5 L295.3 355.0 L296.1 364.0 L298.3 370.0" fill="none" stroke="#585858" stroke-width="1.5" stroke-linejoin="round"/>
<path d="M296.0 367.0 L298.3 370.0 L333.5 372.3 L334.3 375.3 L335.8 369.3 L341.8 370.0" fill="none" stroke="#585858" stroke-width="1.5" stroke-linejoin="round"/>
<path d="M341.1 340.0 L348.6 352.8" fill="none" stroke="#585858" stroke-width="1.5" stroke-linejoin="round"/>
<path d="M686.0 735.7 L686.7 741.9 L701.4 748.0 L707.5 760.3 L710.6 768.5 L716.7 778.7 L721.9 780.3" fill="none" stroke="#585858" stroke-width="1.5" stroke-linejoin="round"/>
<path d="M640.0 778.7 L652.3 786.9 L664.6 795.1 L649.2 829.8" fill="none" stroke="#585858" stroke-width="1.5" stroke-linejoin="round"/>
<path d="M796.5 778.7 L795.5 786.9 L790.4 801.2 L783.2 815.5 L775.1 825.8 L767.9 829.8" fill="none" stroke="#585858" stroke-width="1.5" stroke-linejoin="round"/>
<path d="M852.8 801.2 L848.7 808.4 L841.6 812.5 L837.5 820.6 L838.5 829.8" fill="none" stroke="#585858" stroke-width="1.5" stroke-linejoin="round"/>
<path d="M859.0 802.2 L856.9 807.3 L861.0 821.7 L860.0 829.8" fill="none" stroke="#585858" stroke-width="1.5" stroke-linejoin="round"/>
<path d="M575.6 737.5 L582.7 740.1 L585.8 753.4 L585.4 763.7 L588.3 770.8 L586.8 774.9 L596.0 784.1 L598.1 773.9 L605.2 771.9 L610.4 775.9 L614.4 772.9 L615.5 765.7 L618.5 762.6 L630.0 762.6" fill="none" stroke="#585858" stroke-width="1.5" stroke-linejoin="round"/>
<path d="M101.5 134.0 L165.2 134.0 L165.9 129.5 L170.2 130.0 L172.7 137.0 L186.4 140.0 L211.4 145.7 L223.8 144.5 L238.8 147.0 L253.0 144.0 L278.8 154.0 L296.2 160.7 L301.2 166.9 L307.5 167.7 L311.2 173.2 L315.7 174.4 L328.7 181.9 L331.7 191.9 L333.7 204.4 L329.9 214.4 L321.2 223.1 L323.2 226.9 L329.9 228.1 L343.7 223.1 L358.7 219.4 L374.9 213.1 L372.4 206.9 L376.1 203.9 L402.3 203.1 L411.1 194.4 L426.1 186.9 L436.0 186.4 L470.0 186.4" fill="none" stroke="#151515" stroke-width="2.0" stroke-linejoin="round"/>
<path d="M470.0 185.9 L471.5 182.8 L483.5 176.8 L489.5 164.8 L499.3 154.7 L504.5 158.0 L513.5 155.8 L518.0 159.5 L518.0 177.5 L527.0 186.5" fill="none" stroke="#151515" stroke-width="2.0" stroke-linejoin="round"/>
<path d="M102.5 403.8 L104.0 405.3 L110.0 412.0 L112.3 419.5 L116.0 426.3 L125.0 430.0 L134.0 433.0 L140.0 432.7" fill="none" stroke="#151515" stroke-width="2.0" stroke-linejoin="round"/>
<path d="M203.8 577.3 L203.8 570.5 L209.0 558.5 L227.1 558.1 L227.4 553.3 L222.6 551.0 L213.5 543.5 L218.8 543.2 L219.3 536.0 L242.8 536.0" fill="none" stroke="#151515" stroke-width="2.0" stroke-linejoin="round"/>
<path d="M242.8 536.0 L248.1 534.8 L252.6 527.8 L257.1 527.0" fill="none" stroke="#151515" stroke-width="2.0" stroke-linejoin="round"/>
<path d="M242.8 536.0 L242.8 560.8 L248.1 560.8" fill="none" stroke="#151515" stroke-width="2.0" stroke-linejoin="round"/>
<path d="M254.8 563.8 L242.1 572.8 L242.8 578.0 L239.1 581.1 L231.6 587.4" fill="none" stroke="#151515" stroke-width="2.0" stroke-linejoin="round"/>
<path d="M239.1 581.1 L244.3 581.1 L251.8 586.3 L258.6 585.6 L261.6 588.6 L260.8 594.6" fill="none" stroke="#151515" stroke-width="2.0" stroke-linejoin="round"/>
<path d="M263.8 596.8 L269.1 598.3 L273.6 594.6 L274.3 589.3 L278.8 588.6 L283.3 584.8 L286.3 586.3 L293.8 581.1 L297.6 574.3 L305.1 576.5 L320.1 572.0" fill="none" stroke="#151515" stroke-width="2.0" stroke-linejoin="round"/>
<path d="M287.0 621.5 L298.3 623.8 L301.3 622.3 L310.3 626.8 L312.5 624.8" fill="none" stroke="#151515" stroke-width="2.0" stroke-linejoin="round"/>
<path d="M332.0 645.5 L324.5 642.5 L323.0 644.8 L325.3 650.0 L323.8 659.8" fill="none" stroke="#151515" stroke-width="2.0" stroke-linejoin="round"/>
<path d="M395.1 653.8 L396.6 663.5 L389.8 666.5 L388.3 671.8" fill="none" stroke="#151515" stroke-width="2.0" stroke-linejoin="round"/>
<path d="M470.1 614.8 L464.1 616.3 L461.1 622.3 L453.6 627.5 L450.6 636.5 L447.6 647.0 L453.6 647.8 L459.6 660.5 L458.8 668.8 L464.8 675.5 L480.0 674.0" fill="none" stroke="#151515" stroke-width="2.0" stroke-linejoin="round"/>
<path d="M460.0 671.8 L464.5 675.5 L481.0 674.3 L488.5 677.0 L497.5 686.0 L509.5 684.5 L520.0 684.8 L523.8 687.5 L520.8 695.0 L518.5 701.1 L518.2 708.6 L520.8 717.6 L524.5 722.8 L518.5 728.8 L524.5 734.1" fill="none" stroke="#151515" stroke-width="2.0" stroke-linejoin="round"/>
<path d="M621.3 658.3 L612.3 664.3 L610.8 669.5 L613.8 674.8 L603.3 679.3 L604.1 685.3 L600.3 688.3 L610.1 698.0" fill="none" stroke="#151515" stroke-width="2.0" stroke-linejoin="round"/>
<path d="M610.1 698.0 L610.1 701.8 L606.3 706.3 L595.1 710.1 L581.6 713.8 L578.6 716.8 L568.0 713.8 L556.0 712.3 L562.0 716.1 L562.8 725.1 L564.3 732.6 L574.1 735.0" fill="none" stroke="#151515" stroke-width="2.0" stroke-linejoin="round"/>
<path d="M610.1 698.0 L616.1 698.0 L619.1 707.1 L624.3 714.6 L621.3 720.6 L619.8 729.6 L622.1 735.0" fill="none" stroke="#151515" stroke-width="2.0" stroke-linejoin="round"/>
<path d="M655.1 688.3 L653.6 699.5 L646.1 702.6 L643.8 713.1 L649.1 722.1 L655.1 723.6 L658.1 731.1 L659.6 735.0" fill="none" stroke="#151515" stroke-width="2.0" stroke-linejoin="round"/>
<path d="M655.3 688.2 L653.3 699.9 L645.1 703.4 L643.7 712.2 L649.2 721.4 L654.3 724.5 L657.4 732.6 L662.5 739.8" fill="none" stroke="#151515" stroke-width="2.0" stroke-linejoin="round"/>
<path d="M635.9 747.0 L640.0 745.9 L647.2 743.9 L653.3 739.8 L662.5 740.2 L670.7 741.9 L670.3 733.7 L680.9 732.6 L688.1 734.7 L691.2 736.7 L696.3 737.4 L699.3 734.7 L703.4 738.8 L709.6 737.8 L713.7 732.6 L718.8 721.4 L725.9 712.2" fill="none" stroke="#151515" stroke-width="2.0" stroke-linejoin="round"/>
<path d="M695.3 690.7 L689.1 703.0 L690.8 711.2 L695.3 719.3 L692.8 727.5 L690.1 735.7" fill="none" stroke="#151515" stroke-width="2.0" stroke-linejoin="round"/>
<path d="M375.4 748.3 L391.4 755.5 L394.5 759.6 L405.7 761.6 L408.8 760.0 L422.1 766.7" fill="none" stroke="#151515" stroke-width="2.0" stroke-linejoin="round"/>
<path d="M422.1 766.7 L422.5 775.9 L415.9 786.2 L403.7 798.5 L389.3 803.6 L382.2 812.8 L378.1 824.0 L370.9 829.2 L364.8 823.0 L355.6 819.9 L354.6 816.9 L357.6 810.7" fill="none" stroke="#151515" stroke-width="2.0" stroke-linejoin="round"/>
<path d="M422.1 766.7 L428.2 769.8 L436.4 778.0 L442.6 782.1 L450.7 795.4 L458.9 796.4 L466.1 793.3 L471.2 795.4 L479.4 794.8 L488.6 800.5 L481.4 812.8 L490.6 819.9" fill="none" stroke="#151515" stroke-width="2.0" stroke-linejoin="round"/>
<path d="M490.6 819.9 L494.7 796.4 L497.8 778.0 L494.7 770.8 L489.6 766.7 L489.2 758.6 L499.4 756.5 L499.0 752.4 L491.7 751.4 L491.7 743.8 L517.2 743.6 L521.3 739.5 L526.5 745.3 L528.1 750.4" fill="none" stroke="#151515" stroke-width="2.0" stroke-linejoin="round"/>
<path d="M490.6 819.9 L480.4 819.9 L467.1 824.0 L457.9 831.2" fill="none" stroke="#151515" stroke-width="2.0" stroke-linejoin="round"/>
<path d="M522.4 690.0 L517.9 700.2 L519.3 710.5 L524.0 721.7 L517.9 728.9 L524.4 734.0 L528.1 744.2 L528.5 750.4 L536.7 755.9 L546.9 755.1 L550.0 750.4 L564.3 745.3 L567.4 740.1 L575.6 737.5" fill="none" stroke="#151515" stroke-width="2.0" stroke-linejoin="round"/>
<path d="M575.6 737.5 L574.5 734.6 L563.3 732.6 L561.2 716.6 L556.1 712.5 L578.6 716.6 L585.8 712.1 L602.2 707.4 L611.4 702.3 L610.8 698.2 L617.5 698.2" fill="none" stroke="#151515" stroke-width="2.0" stroke-linejoin="round"/>
<path d="M617.5 698.2 L620.6 708.4 L624.7 714.6 L619.6 726.8 L622.6 741.2 L630.0 748.3 L641.1 751.4" fill="none" stroke="#151515" stroke-width="2.0" stroke-linejoin="round"/>
<path d="M469.6 509.9 L468.3 523.7 L465.0 527.4 L468.3 533.8" fill="none" stroke="#151515" stroke-width="2.0" stroke-linejoin="round"/>
<path d="M1171.6 491.1 L1199.6 489.3 L1201.4 484.0 L1206.7 478.8 L1211.1 460.4 L1229.5 446.3 L1235.6 431.1 L1240.0 429.6 L1243.5 419.5 L1254.0 418.2 L1262.8 420.0" fill="none" stroke="#151515" stroke-width="2.0" stroke-linejoin="round"/>
<path d="M1171.6 491.4 L1223.9 491.1 L1221.1 471.8 L1224.2 465.6 L1236.5 464.7 L1236.1 431.8 L1262.8 431.8" fill="none" stroke="#151515" stroke-width="2.0" stroke-linejoin="round"/>
<path d="M1178.2 553.7 L1183.0 552.8 L1190.0 554.6 L1197.0 551.9 L1203.2 551.9 L1217.2 558.9 L1226.0 568.6 L1233.9 576.5" fill="none" stroke="#151515" stroke-width="2.0" stroke-linejoin="round"/>
<path d="M1233.9 576.5 L1238.2 574.7 L1240.0 567.7 L1245.3 566.8 L1252.3 570.0 L1262.8 567.2" fill="none" stroke="#151515" stroke-width="2.0" stroke-linejoin="round"/>
<path d="M1233.9 576.5 L1235.6 587.9 L1241.8 596.7 L1242.6 605.4 L1243.5 609.8 L1249.6 608.1 L1256.7 611.6 L1262.8 612.1" fill="none" stroke="#151515" stroke-width="2.0" stroke-linejoin="round"/>
<path d="M1174.2 590.5 L1185.6 590.0 L1192.6 587.0 L1197.0 587.0 L1201.4 590.5 L1206.7 589.6 L1210.2 587.9 L1211.9 591.4 L1206.7 594.0 L1199.6 593.2 L1194.4 591.4 L1186.5 596.3 L1174.2 596.3" fill="none" stroke="#151515" stroke-width="2.0" stroke-linejoin="round"/>
<path d="M1176.0 605.4 L1182.1 603.7 L1190.9 602.3 L1220.7 602.8 L1230.4 606.3 L1233.9 605.1 L1242.6 605.8" fill="none" stroke="#151515" stroke-width="2.0" stroke-linejoin="round"/>
<path d="M1214.6 604.6 L1213.7 609.8 L1211.9 615.1 L1202.3 617.4 L1196.1 622.6" fill="none" stroke="#151515" stroke-width="2.0" stroke-linejoin="round"/>
<path d="M1219.8 651.1 L1226.0 645.8 L1231.2 638.8 L1237.4 636.1 L1247.0 636.1 L1252.3 644.0 L1254.9 652.8 L1255.8 658.9" fill="none" stroke="#151515" stroke-width="2.0" stroke-linejoin="round"/>
<path d="M1243.5 678.2 L1247.0 669.5 L1255.8 659.5 L1262.8 657.2" fill="none" stroke="#151515" stroke-width="2.0" stroke-linejoin="round"/>
<path d="M531.8 121.1 L526.3 127.3 L508.3 133.7 L496.3 144.5 L474.8 162.5 L485.0 159.5 L498.5 147.5 L510.5 140.0 L533.0 132.8 L552.6 131.8 L565.3 137.0 L564.6 140.8 L552.6 146.0 L554.1 152.0 L556.3 161.0 L560.1 167.8 L575.1 173.8 L585.6 174.8 L599.1 174.5 L602.8 170.0 L611.1 160.3 L612.6 169.3 L621.6 174.5 L605.1 182.0 L593.1 186.5 L575.1 191.0 L563.1 195.5 L551.1 205.3 L539.0 204.5 L539.0 194.0 L551.1 188.0 L562.3 182.5 L545.0 182.8 L528.5 184.0 L527.0 189.5 L515.0 195.5 L503.0 199.3 L489.5 203.8 L482.0 210.5 L479.3 218.0 L481.3 224.0 L485.0 227.0 L488.8 222.5 L491.8 225.5 L490.3 229.3 L485.0 230.0 L467.0 233.8 L455.0 236.4 L452.1 236.8 L441.6 238.8 L438.6 241.8 L435.6 244.0 L438.6 243.3 L437.8 250.0 L435.6 255.3 L430.3 260.5 L425.8 264.3 L423.5 259.8 L419.0 256.8 L418.3 258.3 L422.0 265.0 L425.0 268.0 L424.3 271.8 L418.3 279.3 L413.8 286.8 L412.3 286.0 L416.0 278.5 L410.0 273.3 L408.5 265.0 L407.0 262.8 L405.8 267.3 L408.5 273.3 L405.5 276.3 L399.5 272.8 L406.3 276.7 L409.3 279.3 L410.0 289.0 L413.8 291.3 L414.5 296.5 L416.0 307.0 L411.5 313.0 L407.0 317.5 L395.0 320.5 L386.0 328.0 L379.3 330.3 L372.5 335.6 L371.0 339.3 L360.5 344.6 L350.0 352.1 L345.5 358.1 L342.5 365.0 L348.6 353.5 L344.1 359.5 L342.3 367.0 L343.3 375.3 L347.1 386.5 L353.8 398.5 L355.3 404.5 L359.1 415.0 L360.6 424.0 L359.8 431.5 L356.8 439.0 L352.3 442.8 L346.3 441.3 L344.4 436.0 L338.8 431.5 L333.5 422.5 L327.5 413.5 L324.2 406.0 L326.0 400.0 L326.8 397.0 L320.0 386.5 L312.5 379.8 L308.8 377.8 L302.0 381.3 L294.5 384.3 L290.0 381.3 L284.0 376.8 L278.8 374.5 L264.5 375.7 L252.5 374.8 L243.5 375.6 L239.0 377.5 L239.8 385.0 L242.8 388.8 L240.5 390.7 L236.0 388.3 L230.0 390.3 L221.1 390.3 L211.3 383.5 L200.0 385.3 L190.3 382.8 L182.0 383.5 L171.5 386.5 L159.5 396.3 L147.5 401.2 L140.0 408.3 L137.3 415.0 L137.8 424.0 L140.0 432.3 L136.3 442.0 L133.3 452.6 L132.5 466.1 L131.3 476.6 L134.0 485.0 L137.8 491.0 L140.8 499.3 L147.5 506.8 L153.5 517.3 L157.3 522.5 L170.0 526.7 L175.7 531.8 L185.0 528.8 L201.5 525.8 L213.5 522.8 L222.6 518.0 L225.3 512.0 L226.3 500.0 L229.3 494.0 L239.1 490.7 L251.8 488.3 L263.1 489.2 L270.6 488.0 L273.6 491.0 L273.3 497.0 L269.1 502.3 L265.3 506.0 L263.4 513.5 L265.3 514.3 L260.1 530.0 L257.1 529.3 L257.1 536.0 L254.8 543.5 L254.8 549.5 L251.8 554.8 L247.3 558.5 L248.8 560.8 L255.6 563.0 L261.6 560.8 L272.1 561.8 L284.1 559.3 L290.1 560.8 L297.6 559.7 L305.1 563.0 L314.1 568.3 L320.1 572.0 L320.8 575.0 L319.3 581.1 L317.1 588.6 L316.3 597.6 L317.1 605.1 L314.1 615.0 L316.7 603.5 L314.0 609.5 L313.3 614.8 L311.8 620.0 L314.0 626.0 L319.3 633.5 L326.0 640.3 L332.0 645.5 L333.5 649.3 L339.5 649.7 L342.5 651.8 L348.5 650.8 L356.0 647.5 L362.0 645.5 L366.5 642.1 L372.6 642.5 L380.1 643.7 L387.6 647.0 L395.1 653.8 L401.8 653.8 L410.8 646.3 L416.8 643.3 L419.1 629.8 L426.6 623.0 L434.8 622.3 L436.3 620.0 L446.1 620.8 L459.6 612.5 L467.5 605.0 L472.8 606.2 L475.0 609.5 L472.8 614.8 L466.8 617.8 L468.3 622.3 L469.8 626.0 L468.3 633.5 L463.0 638.8 L467.5 647.8 L473.5 647.8 L476.2 638.8 L472.0 633.5 L471.7 625.3 L487.0 620.0 L486.3 612.5 L490.0 608.8 L494.5 617.8 L503.5 618.2 L512.5 625.3 L513.3 629.3 L524.5 629.3 L538.0 628.3 L546.3 633.8 L554.5 635.0 L562.8 631.3 L562.8 627.8 L580.1 627.2 L595.1 627.2 L583.1 630.8 L587.6 636.8 L596.6 638.0 L604.1 642.2 L607.8 646.3 L609.3 654.2 L616.8 655.3 L621.3 658.3 L631.1 664.3 L637.8 671.8 L638.6 676.3 L643.1 678.5 L655.1 688.3 L670.1 690.5 L671.6 688.7 L680.0 688.0 L655.3 688.2 L670.7 690.7 L671.7 688.2 L682.0 687.2 L695.3 690.7 L710.6 695.8 L723.9 706.7 L725.9 712.2 L731.1 712.8 L734.1 719.3 L741.3 741.4 L747.4 742.9 L748.0 752.1 L738.2 762.3 L741.3 766.0 L764.8 767.8 L765.9 781.1 L775.1 772.6 L796.5 778.7 L812.9 784.8 L819.1 793.0 L817.0 800.2 L831.3 795.7 L852.8 801.2 L859.0 802.2 L876.4 801.6 L894.8 811.8 L911.1 826.2 L921.4 831.9" stroke="#000" stroke-width="2.9" stroke-linejoin="round" stroke-linecap="round" fill="none"/>
<path d="M342.3 833.2 L343.3 827.1 L347.4 816.9 L357.6 808.7 L362.7 798.5 L360.7 794.4 L356.6 799.5 L348.4 794.4 L350.5 789.2 L349.4 779.0 L354.6 775.9 L358.6 765.7 L360.7 755.5 L375.4 748.3 L374.0 744.2 L378.1 742.2 L379.1 736.0 L381.2 732.0 L388.3 730.5 L398.1 715.6 L393.6 713.1 L395.8 705.6 L394.3 699.5 L392.8 693.5 L395.8 689.8 L393.6 680.0 L389.1 673.3 L383.8 668.0 L381.6 662.0 L383.8 659.0 L381.6 658.3 L377.8 653.0 L371.8 650.0 L367.3 650.8 L363.5 655.3 L356.8 658.3 L356.0 660.5 L361.3 668.0 L356.0 671.0 L350.0 671.8 L347.8 663.5 L347.0 666.5 L341.8 665.8 L339.5 661.3 L333.5 659.8 L325.3 658.3 L324.5 660.5 L317.8 657.5 L313.3 654.5 L314.8 652.3 L314.8 647.8 L309.5 643.3 L300.5 638.8 L296.8 635.8 L297.5 640.3 L295.3 642.5 L292.3 638.0 L287.0 635.0 L287.0 627.5 L284.0 625.3 L287.0 621.5 L276.5 612.5 L269.0 604.3 L263.0 599.0 L263.1 599.1 L263.8 596.1 L260.8 594.9 L252.6 595.8 L245.1 593.1 L236.1 591.3 L224.1 586.3 L215.8 586.3 L209.0 583.3 L200.0 576.5 L191.0 568.3 L182.0 560.8 L172.3 556.7 L164.0 557.8 L155.0 562.3 L148.3 564.2 L138.5 560.8 L128.0 557.8 L114.5 551.0 L102.5 548.9" stroke="#000" stroke-width="2.9" stroke-linejoin="round" stroke-linecap="round" fill="none"/>
<path d="M1266.3 381.4 L1261.4 385.8 L1256.7 390.2 L1249.6 393.7 L1240.0 403.0 L1228.6 404.2 L1221.6 409.5 L1212.8 422.6 L1204.9 426.5 L1200.5 434.9 L1199.6 442.8 L1196.1 449.8 L1191.8 451.6 L1183.9 460.4 L1180.4 468.2 L1180.7 473.5 L1176.8 479.6 L1171.6 483.2 L1170.7 494.6 L1176.8 499.8 L1181.2 506.0 L1179.5 513.9 L1181.8 522.6 L1182.5 533.2 L1182.1 540.5 L1180.0 546.7 L1177.2 551.1 L1178.2 558.1 L1173.3 567.7 L1168.1 573.5 L1162.8 576.0 L1168.9 580.0 L1172.5 586.1 L1175.1 590.5 L1173.3 596.7 L1176.0 607.2 L1179.5 610.7 L1183.0 616.3 L1188.2 617.7 L1197.0 623.9 L1200.5 627.4 L1203.2 634.4 L1209.3 639.1 L1219.8 651.1 L1221.6 659.8 L1226.0 666.8 L1233.0 672.5 L1243.5 678.2 L1250.5 684.4 L1261.4 691.4 L1266.3 694.9" stroke="#000" stroke-width="2.9" stroke-linejoin="round" stroke-linecap="round" fill="none"/>
<path d="M563.1 163.3 L566.8 160.3 L572.1 167.0 L593.1 167.0 L587.8 172.3 L578.1 173.0 L567.6 169.3 Z" stroke="#000" stroke-width="2.9" stroke-linejoin="round" stroke-linecap="round" fill="none"/>
<path d="M560.1 123.2 L570.6 123.2 L596.1 131.0 L594.6 133.7 L584.1 132.5 L567.6 127.3 Z" stroke="#000" stroke-width="2.9" stroke-linejoin="round" stroke-linecap="round" fill="none"/>
<path d="M645.8 120.8 L639.0 133.3 L627.8 141.5 L634.5 144.5 L625.5 149.8 L627.8 152.8 L651.0 154.3 L666.0 152.8 L675.0 157.3 L669.8 161.8 L676.5 162.2 L691.5 151.3 L696.0 153.5 L693.8 161.8 L700.5 164.8 L707.3 164.8 L713.3 154.3 L710.3 146.8 L708.0 139.3 L699.0 140.8 L702.8 132.5 L690.0 128.0 L684.0 130.3 L673.5 126.5 L676.5 120.8 Z" stroke="#000" stroke-width="2.9" stroke-linejoin="round" stroke-linecap="round" fill="none"/>
<path d="M441.6 238.8 L452.1 240.3 L464.1 238.8 L464.8 236.8 L452.1 237.1 Z" stroke="#000" stroke-width="2.9" stroke-linejoin="round" stroke-linecap="round" fill="none"/>
<path d="M374.1 421.8 L389.1 420.3 L390.6 417.3 L399.6 422.5 L398.1 432.3 L395.1 430.8 L395.1 424.0 L389.1 423.7 L374.8 425.5 Z" stroke="#000" stroke-width="2.9" stroke-linejoin="round" stroke-linecap="round" fill="none"/>
<path d="M384.6 441.3 L387.6 440.8 L392.1 450.3 L392.8 460.1 L389.8 460.8 L386.1 452.6 L381.6 448.8 Z" stroke="#000" stroke-width="2.9" stroke-linejoin="round" stroke-linecap="round" fill="none"/>
<path d="M296.4 483.2 L303.8 479.5 L307.5 473.9 L318.5 469.3 L332.4 466.9 L353.5 468.4 L363.7 471.7 L370.1 477.6 L382.1 475.8 L406.0 492.7 L411.6 492.4 L418.0 495.1 L417.1 498.3 L427.2 499.7 L436.4 504.3 L433.7 508.0 L418.9 509.3 L400.5 508.9 L390.4 509.9 L397.7 503.4 L394.1 499.7 L383.9 497.5 L380.2 493.3 L378.0 487.8 L371.0 487.4 L361.8 485.0 L353.5 482.2 L337.9 479.5 L333.3 477.3 L337.9 474.3 L325.0 473.6 L315.8 480.4 L309.3 481.3 L308.4 484.1 L301.1 485.0 Z" stroke="#000" stroke-width="2.9" stroke-linejoin="round" stroke-linecap="round" fill="none"/>
<path d="M382.1 529.2 L387.6 526.4 L398.7 527.4 L407.9 531.0 L410.6 535.1 L404.2 535.6 L396.8 538.0 L389.5 535.1 Z" stroke="#000" stroke-width="2.9" stroke-linejoin="round" stroke-linecap="round" fill="none"/>
<path d="M445.6 511.7 L448.4 508.9 L466.8 510.8 L471.4 508.9 L479.7 509.3 L489.8 512.6 L491.7 516.3 L499.0 516.7 L500.0 520.9 L507.3 522.7 L511.9 525.9 L507.3 531.0 L501.8 528.3 L489.8 530.7 L483.4 528.3 L477.9 529.2 L474.2 535.6 L471.4 539.3 L467.7 536.6 L466.8 532.9 L452.1 531.0 L444.7 531.0 L439.2 533.8 L431.8 529.2 L432.7 525.1 L444.7 526.4 L455.8 527.4 L460.4 525.5 L456.7 520.9 L454.8 514.8 Z" stroke="#000" stroke-width="2.9" stroke-linejoin="round" stroke-linecap="round" fill="none"/>
<path d="M524.8 528.3 L527.6 527.0 L542.3 527.4 L546.9 530.5 L543.2 534.7 L525.7 535.1 Z" stroke="#000" stroke-width="2.9" stroke-linejoin="round" stroke-linecap="round" fill="none"/>
<path d="M595.8 626.8 L606.3 625.3 L606.8 634.3 L597.3 635.0 L592.8 635.0 L595.8 631.3 Z" stroke="#000" stroke-width="2.9" stroke-linejoin="round" stroke-linecap="round" fill="none"/>
</g>
<rect x="104.0" y="122.0" width="1158.0" height="708.0" fill="none" stroke="#000" stroke-width="2.2"/>
<text x="683" y="99.8" font-size="33.33" text-anchor="middle">GraphCast-GFS – Day 4 (10m Wind Speed)</text>
<text x="683" y="904.5" font-size="25" text-anchor="middle" style="fill:#333">Max: 39 kt @ 42.0°N, 54.2°W • Valid 2025-11-07 00Z</text>
<text x="89.3" y="259.0" font-size="27.78" text-anchor="end">40°N</text>
<text x="89.3" y="387.6" font-size="27.78" text-anchor="end">30°N</text>
<text x="89.3" y="516.3" font-size="27.78" text-anchor="end">20°N</text>
<text x="89.3" y="645.0" font-size="27.78" text-anchor="end">10°N</text>
<text x="89.3" y="773.6" font-size="27.78" text-anchor="end">0°</text>
<text x="361.3" y="866" font-size="27.78" text-anchor="middle">80°W</text>
<text x="618.7" y="866" font-size="27.78" text-anchor="middle">60°W</text>
<text x="876.0" y="866" font-size="27.78" text-anchor="middle">40°W</text>
<text x="1133.3" y="866" font-size="27.78" text-anchor="middle">20°W</text>
<path d="M1289.2 931.7 L1289.2 62.4 L1312.25 20 L1335.3 62.4 L1335.3 931.7 Z" fill="url(#cb)" stroke="#000" stroke-width="2.3" stroke-linejoin="miter"/>
<path d="M1335.3 932.2 h9.7" stroke="#000" stroke-width="2.2"/>
<text x="1355" y="943.1" font-size="27.78">20</text>
<path d="M1335.3 710.9 h9.7" stroke="#000" stroke-width="2.2"/>
<text x="1355" y="721.8" font-size="27.78">40</text>
<path d="M1335.3 533.2 h9.7" stroke="#000" stroke-width="2.2"/>
<text x="1355" y="544.1" font-size="27.78">60</text>
<path d="M1335.3 369.1 h9.7" stroke="#000" stroke-width="2.2"/>
<text x="1355" y="380.0" font-size="27.78">80</text>
<path d="M1335.3 213.1 h9.7" stroke="#000" stroke-width="2.2"/>
<text x="1355" y="224.0" font-size="27.78">100</text>
<path d="M1335.3 62.9 h9.7" stroke="#000" stroke-width="2.2"/>
<text x="1355" y="73.8" font-size="27.78">120</text>
<text transform="translate(1440 498.2) rotate(-90)" font-size="27.78" text-anchor="middle">10m Wind Speed (knots)</text>
</svg></body></html>
